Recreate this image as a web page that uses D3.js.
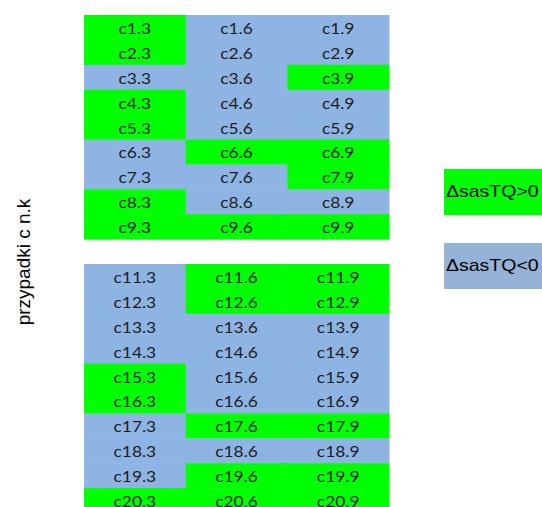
<!DOCTYPE html>
<html><head><meta charset="utf-8">
<script src="https://cdn.jsdelivr.net/npm/d3@7/dist/d3.min.js"></script>
<style>html,body{margin:0;padding:0;background:#fff;overflow:hidden}</style>
</head><body>
<svg id="c" width="542" height="507"></svg>
<script>
const rows = [1,2,3,4,5,6,7,8,9,10,11,12,13,14,15,16,17,18,19,20];
const cols = ["3","6","9"];
// sign of ΔsasTQ per row, for columns .3 .6 .9 ; null = empty row
const signs = {
  1:["+","-","-"], 2:["+","-","-"], 3:["-","-","+"], 4:["+","-","-"], 5:["+","-","-"],
  6:["-","+","+"], 7:["-","-","+"], 8:["+","-","-"], 9:["+","+","+"], 10:null,
  11:["-","+","+"], 12:["-","+","+"], 13:["-","-","-"], 14:["-","-","-"], 15:["+","-","-"],
  16:["+","-","-"], 17:["-","+","+"], 18:["-","-","-"], 19:["-","+","+"], 20:["+","+","+"]
};
const legendLabels = ["ΔsasTQ>0","ΔsasTQ<0"];
const yLabel = "przypadki c n.k";

const svg = d3.select("#c");
const x = d3.scaleBand().domain(cols).range([84, 389]).padding(0);
const y = d3.scaleBand().domain(rows).range([15, 15 + 20*24.9]).padding(0);
const colorGrid = {"+":"#00ff00","-":"#8db4e2"};

const cells = [];
rows.forEach(r => { if (signs[r]) cols.forEach((c,i) => cells.push({r, c, s: signs[r][i]})); });

const g = svg.append("g");
g.selectAll("rect").data(cells).join("rect")
  .attr("x", d => x(d.c)).attr("y", d => y(d.r))
  .attr("width", x.bandwidth() + 0.5).attr("height", y.bandwidth() + 0.5)
  .attr("fill", d => colorGrid[d.s]);
g.selectAll("text").data(cells).join("text")
  .attr("transform", d => `translate(${x(d.c) + x.bandwidth()/2},${y(d.r) + y.bandwidth()/2 + 6.5}) scale(1.2,1)`)
  .attr("text-anchor","middle")
  .attr("font-family","Lato, 'Open Sans', sans-serif").attr("font-size", 14.5)
  .attr("fill","#1e1e1e")
  .text(d => `c${d.r}.${d.c}`);

// y label
svg.append("text")
  .attr("transform","translate(23,262) rotate(-90)")
  .attr("text-anchor","middle").attr("dominant-baseline","central")
  .attr("font-family","'Liberation Sans', Arial, sans-serif").attr("font-size", 19)
  .attr("fill","#000").text(yLabel);

// legend
const lg = svg.append("g");
const legendY = d3.scaleBand().domain(legendLabels).range([169, 169 + 2*64]).paddingInner(0.27).paddingOuter(0);
const legendColors = ["#00ff00","#95b3d7"];
lg.selectAll("rect").data(legendLabels).join("rect")
  .attr("x", 444).attr("y", d => legendY(d)).attr("width", 110).attr("height", 46)
  .attr("fill", (d,i) => legendColors[i]);
lg.selectAll("text").data(legendLabels).join("text")
  .attr("transform", d => `translate(446,${legendY(d) + 23}) scale(1.22,1)`)
  .attr("dominant-baseline","central")
  .attr("font-family","'Liberation Sans', Arial, sans-serif").attr("font-size", 16)
  .attr("fill","#000").text(d => d);
</script>
</body></html>
